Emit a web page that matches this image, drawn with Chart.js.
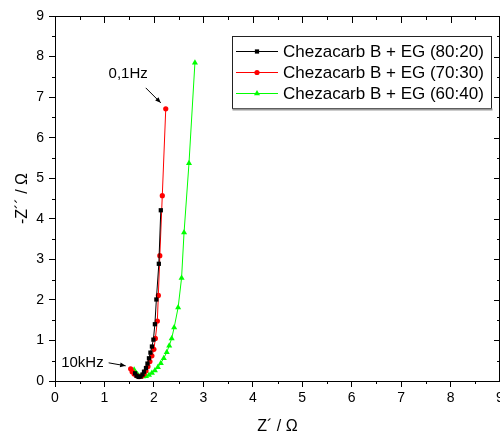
<!DOCTYPE html>
<html>
<head>
<meta charset="utf-8">
<script src="https://cdn.jsdelivr.net/npm/chart.js@4.4.0/dist/chart.umd.min.js"></script>
<style>
  html, body { margin: 0; padding: 0; background: #fff; overflow: hidden; width: 500px; height: 436px; }
  #wrap { position: relative; width: 510px; height: 436px; }
</style>
</head>
<body>
<div id="wrap"><canvas id="grafico" width="510" height="436"></canvas></div>
<script>
// nomi delle serie
var serie = ['Chezacarb B + EG (80:20)', 'Chezacarb B + EG (70:30)', 'Chezacarb B + EG (60:40)'];
// Z' e -Z''
var zr80 = [1.62, 1.65, 1.69, 1.73, 1.77, 1.80, 1.84, 1.87, 1.90, 1.93, 1.96, 1.99, 2.02, 2.05, 2.10, 2.14];
var zi80 = [0.19, 0.13, 0.10, 0.11, 0.16, 0.23, 0.32, 0.43, 0.56, 0.70, 0.85, 1.02, 1.40, 2.01, 2.89, 4.21];
var zr70 = [1.53, 1.56, 1.60, 1.65, 1.70, 1.75, 1.80, 1.84, 1.88, 1.92, 1.96, 2.00, 2.03, 2.07, 2.09, 2.12, 2.17, 2.24];
var zi70 = [0.30, 0.23, 0.17, 0.13, 0.11, 0.12, 0.17, 0.25, 0.36, 0.48, 0.62, 0.78, 1.05, 1.48, 2.11, 3.09, 4.57, 6.71];
var zr60 = [1.60, 1.63, 1.67, 1.72, 1.78, 1.84, 1.90, 1.96, 2.02, 2.08, 2.14, 2.20, 2.26, 2.31, 2.36, 2.41, 2.49, 2.56, 2.61, 2.71, 2.83];
var zi60 = [0.28, 0.21, 0.16, 0.12, 0.11, 0.12, 0.15, 0.20, 0.26, 0.34, 0.44, 0.56, 0.71, 0.87, 1.05, 1.32, 1.81, 2.54, 3.66, 5.37, 7.85];
// tacche degli assi
var tickX = [0, 1, 2, 3, 4, 5, 6, 7, 8, 9];
var tickY = [0, 1, 2, 3, 4, 5, 6, 7, 8, 9];

var font = 'Liberation Sans, Arial, sans-serif';

function punti(xs, ys) {
  return xs.map(function(v, i) { return { x: v, y: ys[i] }; });
}

//plugin per cornice, tacche minori, legenda e annotazioni
var cornice = {
  id: 'cornice',
  afterDraw: function(chart) {
    var ctx = chart.ctx;
    var a = chart.chartArea;
    var sx = chart.scales.x, sy = chart.scales.y;
    ctx.save();
    ctx.strokeStyle = '#000';
    ctx.lineWidth = 1;
    ctx.beginPath();
    // asse sopra e destra
    ctx.moveTo(a.left, a.top + 0.5); ctx.lineTo(a.right, a.top + 0.5);
    ctx.moveTo(a.right - 0.5, a.top); ctx.lineTo(a.right - 0.5, a.bottom);
    for (var i = 0; i < tickX.length; i++) {
      var px = Math.round(sx.getPixelForValue(tickX[i])) + 0.5;
      if (px > a.right) px = a.right - 0.5;
      ctx.moveTo(px, a.top); ctx.lineTo(px, a.top + 7);
      if (i < tickX.length - 1) {
        var mx = Math.round(sx.getPixelForValue(tickX[i] + 0.5)) + 0.5;
        ctx.moveTo(mx, a.top); ctx.lineTo(mx, a.top + 4);
        ctx.moveTo(mx, a.bottom); ctx.lineTo(mx, a.bottom + 3);
      }
    }
    for (var j = 0; j < tickY.length; j++) {
      var py = Math.round(sy.getPixelForValue(tickY[j])) + 0.5;
      ctx.moveTo(a.right, py); ctx.lineTo(a.right - 6, py);
      if (j < tickY.length - 1) {
        var my = Math.round(sy.getPixelForValue(tickY[j] + 0.5)) + 0.5;
        ctx.moveTo(a.right, my); ctx.lineTo(a.right - 3, my);
        ctx.moveTo(a.left, my); ctx.lineTo(a.left - 3, my);
      }
    }
    ctx.stroke();

    // legenda
    var lx = 232.5, ly = 36.5, lw = 259, lh = 72;
    ctx.fillStyle = '#fff';
    ctx.fillRect(lx, ly, lw, lh);
    ctx.strokeStyle = '#222';
    ctx.strokeRect(lx, ly, lw, lh);
    ctx.strokeStyle = '#999';
    ctx.lineWidth = 2;
    ctx.beginPath();
    ctx.moveTo(lx, ly + lh + 1); ctx.lineTo(lx + lw + 1, ly + lh + 1);
    ctx.stroke();
    ctx.font = '17px ' + font;
    ctx.textBaseline = 'middle';
    chart.data.datasets.forEach(function(ds, k) {
      var ry = 51 + k * 21;
      ctx.strokeStyle = ds.borderColor;
      ctx.lineWidth = 1;
      ctx.beginPath();
      ctx.moveTo(236, ry + 0.5); ctx.lineTo(278, ry + 0.5);
      ctx.stroke();
      ctx.fillStyle = ds.pointBackgroundColor;
      Chart.helpers.drawPoint(ctx, { pointStyle: ds.pointStyle, radius: ds.pointRadius, borderWidth: 0, rotation: 0 }, 257, ry + 0.5);
      ctx.fillStyle = '#000';
      ctx.textAlign = 'left';
      ctx.fillText(ds.label, 283, ry + 1);
    });

    // annotazioni 0,1Hz e 10kHz
    ctx.font = '15px ' + font;
    ctx.fillStyle = '#000';
    ctx.textAlign = 'right';
    var rosso = chart.data.datasets[1].data;
    var alto = rosso[rosso.length - 1];
    var basso = rosso[0];
    var hx = sx.getPixelForValue(alto.x), hy = sy.getPixelForValue(alto.y);
    ctx.fillText('0,1Hz', hx - 18, hy - 35);
    freccia(ctx, hx - 20, hy - 21, hx - 5, hy - 6);
    var kx = sx.getPixelForValue(basso.x), ky = sy.getPixelForValue(basso.y);
    ctx.fillText('10kHz', kx - 27, ky - 6);
    freccia(ctx, kx - 22, ky - 6, kx - 5, ky - 3);
    ctx.restore();
  }
};

function freccia(ctx, x1, y1, x2, y2) {
  var ang = Math.atan2(y2 - y1, x2 - x1);
  ctx.strokeStyle = '#000';
  ctx.lineWidth = 1;
  ctx.beginPath();
  ctx.moveTo(x1, y1); ctx.lineTo(x2, y2);
  ctx.stroke();
  ctx.beginPath();
  ctx.moveTo(x2, y2);
  ctx.lineTo(x2 - 6 * Math.cos(ang - 0.4), y2 - 6 * Math.sin(ang - 0.4));
  ctx.lineTo(x2 - 6 * Math.cos(ang + 0.4), y2 - 6 * Math.sin(ang + 0.4));
  ctx.closePath();
  ctx.fill();
}

var ctx = document.getElementById('grafico');
var chart = new Chart(ctx, {
  type: 'scatter',
  data: {
    datasets: [{
      label: serie[0],
      data: punti(zr80, zi80),
      borderColor: '#000000',
      backgroundColor: '#000000',
      pointBackgroundColor: '#000000',
      pointStyle: 'rect',
      pointRadius: 3,
      pointBorderWidth: 0,
      borderWidth: 1,
      showLine: true
    }, {
      label: serie[1],
      data: punti(zr70, zi70),
      borderColor: '#ff0000',
      backgroundColor: '#ff0000',
      pointBackgroundColor: '#ff0000',
      pointStyle: 'circle',
      pointRadius: 2.6,
      pointBorderWidth: 0,
      borderWidth: 1,
      showLine: true
    }, {
      label: serie[2],
      data: punti(zr60, zi60),
      borderColor: '#00ff00',
      backgroundColor: '#00ff00',
      pointBackgroundColor: '#00ff00',
      pointStyle: 'triangle',
      pointRadius: 3.5,
      pointBorderWidth: 0,
      borderWidth: 1,
      showLine: true
    }]
  },
  options: {
    responsive: false,
    animation: false,
    layout: { padding: { top: 16, right: 10, left: 0, bottom: 0 } },
    plugins: { legend: { display: false }, tooltip: { enabled: false } },
    elements: { line: { tension: 0 } },
    scales: {
      x: {
        type: 'linear', min: 0, max: 9,
        afterBuildTicks: function(s) { s.ticks = tickX.map(function(v) { return { value: v }; }); },
        afterFit: function(s) { s.height = 55; },
        ticks: { color: '#000', font: { family: font, size: 14 }, padding: 3 },
        grid: { display: true, drawOnChartArea: false, drawTicks: true, tickLength: 6, color: '#000', tickColor: '#000' },
        border: { display: true, color: '#000', width: 1 },
        title: { display: true, text: 'Z\u00b4 / \u03a9', color: '#000', font: { family: font, size: 16 }, padding: { top: 0, bottom: 0 } }
      },
      y: {
        type: 'linear', min: 0, max: 9,
        afterBuildTicks: function(s) { s.ticks = tickY.map(function(v) { return { value: v }; }); },
        afterFit: function(s) { s.width = 55; },
        ticks: { color: '#000', font: { family: font, size: 14 }, padding: 5 },
        grid: { display: true, drawOnChartArea: false, drawTicks: true, tickLength: 6, color: '#000', tickColor: '#000' },
        border: { display: true, color: '#000', width: 1 },
        title: { display: true, text: '-Z\u00b4\u00b4 / \u03a9', color: '#000', font: { family: font, size: 16 }, padding: { top: 13, bottom: 0 } }
      }
    }
  },
  plugins: [cornice]
});
</script>
</body>
</html>
